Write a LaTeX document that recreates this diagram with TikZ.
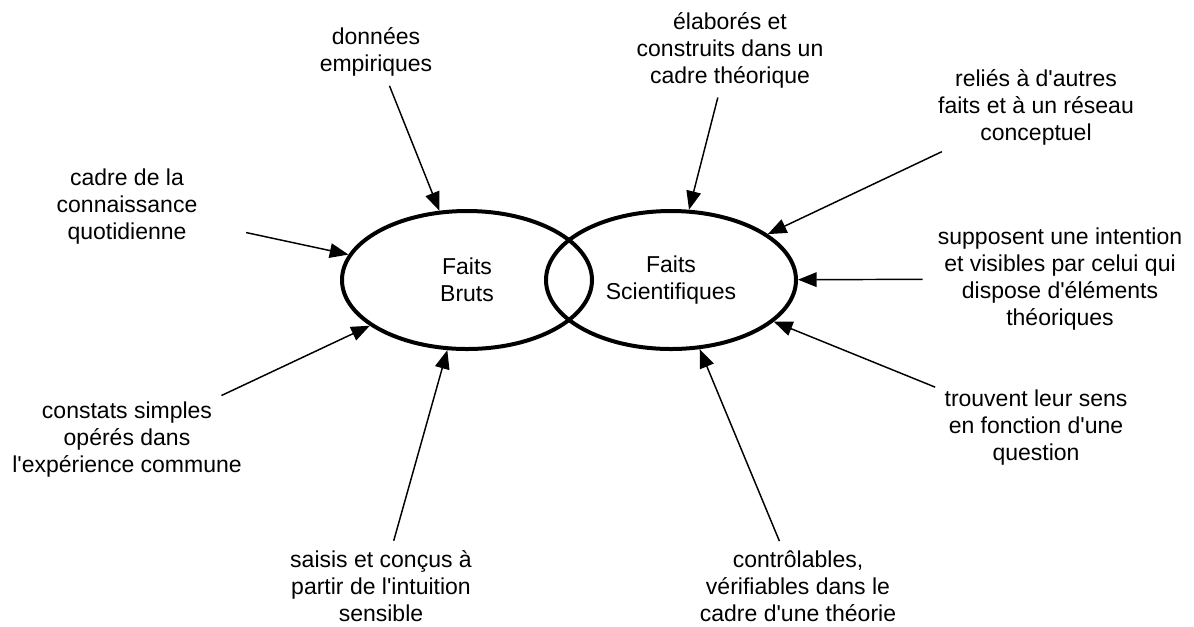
\documentclass[tikz,border=0pt]{standalone}
\usepackage{fontspec}
\setmainfont{Liberation Sans}[Ligatures=TeXOff]
\usetikzlibrary{shapes.geometric,arrows.meta}

\tikzset{every picture/.style={line width=0.75pt}}
\tikzset{
  faits/.style={draw, ellipse, line width=3pt, minimum width=187.5pt, minimum height=103.5pt, inner sep=0pt, align=center, font=\fontsize{17.25pt}{20.25pt}\selectfont},
  txt/.style={align=center, inner sep=3pt, font=\fontsize{17.25pt}{20.25pt}\selectfont},
  fleche/.style={line width=1.1pt, -{Triangle[length=14pt,width=11pt]}, shorten <=4pt},
}

\begin{document}
\begin{tikzpicture}[x=0.75pt,y=0.75pt,yscale=-1,xscale=1]
\path[use as bounding box] (0,0) rectangle (1194,626);

%Shape: Ellipse
\node [faits] (bruts) at (467,280) {Faits\\Bruts};
%Shape: Ellipse
\node [faits] (scient) at (671,280) {Faits\\Scientifiques};

% Text Node
\node [txt] (donnees) at (376,52) {données\\empiriques};
% Text Node
\node [txt] (quotid) at (127,207) {cadre de la\\connaissance\\quotidienne};
% Text Node
\node [txt] (constats) at (127,440) {constats simples\\opérés dans\\l'expérience commune};
% Text Node
\node [txt] (saisis) at (381,586) {saisis et conçus à\\partir de l'intuition\\sensible};
% Text Node
\node [txt] (elabores) at (730,50) {élaborés et\\construits dans un\\cadre théorique};
% Text Node
\node [txt] (relies) at (1036,107) {reliés à d'autres\\faits et à un réseau\\conceptuel};
% Text Node
\node [txt] (supposent) at (1060,279) {supposent une intention\\et visibles par celui qui\\dispose d'éléments\\théoriques};
% Text Node
\node [txt] (trouvent) at (1036,428) {trouvent leur sens\\en fonction d'une\\question};
% Text Node
\node [txt] (controle) at (798,586) {contrôlables,\\vérifiables dans le\\cadre d'une théorie};

%Straight Lines
\draw [fleche] (donnees) -- (bruts);
\draw [fleche, shorten <=34pt] (quotid) -- (bruts);
\draw [fleche] (constats) -- (bruts);
\draw [fleche] (saisis) -- (bruts);
%Straight Lines
\draw [fleche] (elabores) -- (scient);
\draw [fleche] (relies) -- (scient);
\draw [fleche, shorten <=8pt] (supposent) -- (scient);
\draw [fleche] (trouvent) -- (scient);
\draw [fleche] (controle) -- (scient);

\end{tikzpicture}
\end{document}
